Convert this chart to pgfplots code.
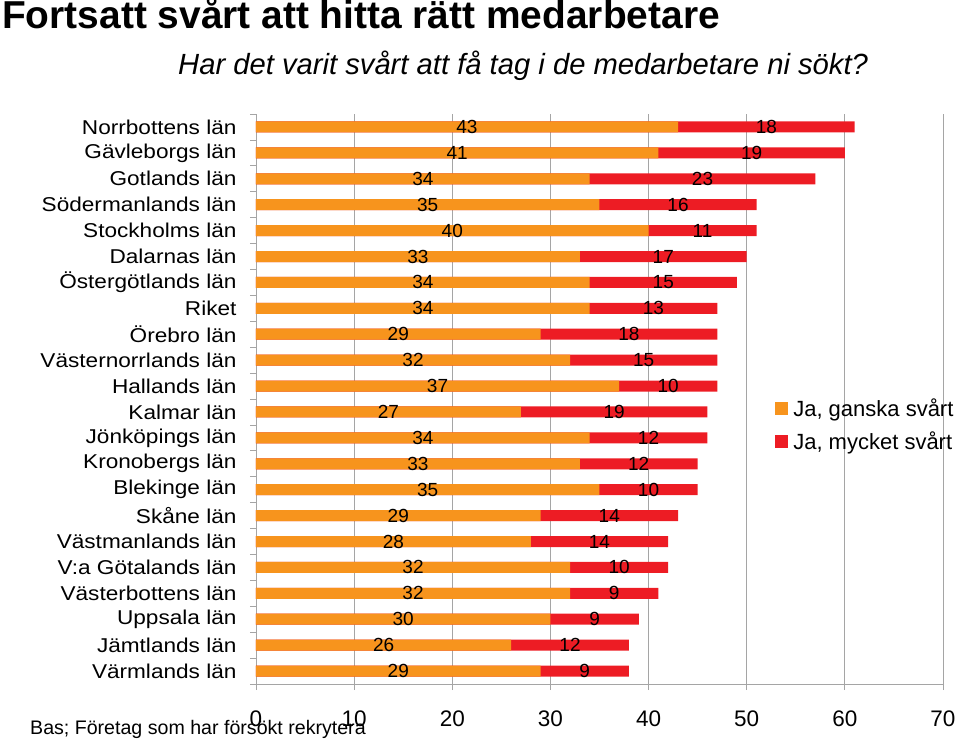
\documentclass[border=0pt]{standalone}
\usepackage{pgfplots}
\pgfplotsset{compat=1.18}
\usepackage{pgfplotstable}
\usepackage{fontspec}
\setmainfont{Liberation Sans}
\newfontfamily\ylabfont{Liberation Sans}[FakeStretch=1.13]
\definecolor{ganska}{RGB}{247,148,29}
\definecolor{mycket}{RGB}{237,28,36}
\definecolor{gridc}{RGB}{165,165,165}
\pgfplotstableread{
y g m
0 43 18
1 41 19
2 34 23
3 35 16
4 40 11
5 33 17
6 34 15
7 34 13
8 29 18
9 32 15
10 37 10
11 27 19
12 34 12
13 33 12
14 35 10
15 29 14
16 28 14
17 32 10
18 32 9
19 30 9
20 26 12
21 29 9
}\data
\begin{document}
\begin{tikzpicture}
\begin{axis}[
  at={(0pt,0pt)}, anchor=south west,
  scale only axis, width=687pt, height=570pt,
  xmin=0, xmax=70, ymin=-0.5, ymax=21.5, y dir=reverse,
  axis x line*=bottom, axis y line*=left,
  axis line style={gridc, line width=0.8pt, -},
  xtick={0,10,...,70}, xmajorgrids,
  grid style={gridc, line width=0.8pt},
  tick align=outside, major tick length=6pt, minor tick length=6pt,
  major x tick style={gridc, line width=0.8pt},
  ytick={0,...,21},
  yticklabels={Norrbottens län,Gävleborgs län,Gotlands län,Södermanlands län,Stockholms län,Dalarnas län,Östergötlands län,Riket,Örebro län,Västernorrlands län,Hallands län,Kalmar län,Jönköpings län,Kronobergs län,Blekinge län,Skåne län,Västmanlands län,V:a Götalands län,Västerbottens län,Uppsala län,Jämtlands län,Värmlands län},
  major y tick style={draw=none},
  minor ytick={-0.5,0.5,...,21.5},
  minor y tick style={gridc, line width=0.8pt},
  yticklabel style={font=\ylabfont\fontsize{20}{24}\selectfont, xshift=-10pt},
  xticklabel style={font=\fontsize{22.5}{26}\selectfont, yshift=-17pt},
  /pgf/number format/assume math mode=true,
  legend style={at={(0.755,0.505)}, anchor=north west, draw=none, fill=none,
    font=\fontsize{22}{25}\selectfont, row sep=10pt, inner sep=0pt},
  legend cell align=left,
  clip=false,
]
\addplot[xbar, /pgf/bar shift=0pt, bar width=11pt, fill=mycket, draw=none, forget plot]
  table[x expr=\thisrow{g}+\thisrow{m}, y=y] {\data};
\addplot[xbar, /pgf/bar shift=0pt, bar width=11pt, fill=ganska, draw=none, forget plot]
  table[x=g, y=y] {\data};
\addplot[draw=none, forget plot, point meta=explicit symbolic,
  nodes near coords, nodes near coords style={anchor=center, font=\fontsize{19}{22}\selectfont, text=black}]
  table[x expr=\thisrow{g}/2, y=y, meta=g] {\data};
\addplot[draw=none, forget plot, point meta=explicit symbolic,
  nodes near coords, nodes near coords style={anchor=center, font=\fontsize{19}{22}\selectfont, text=black}]
  table[x expr=\thisrow{g}+\thisrow{m}/2, y=y, meta=m] {\data};
\addlegendimage{legend image code/.code={\fill[ganska] (0pt,-6pt) rectangle (12pt,6pt); \path (16pt,0pt);}}
\addlegendentry{Ja, ganska svårt}
\addlegendimage{legend image code/.code={\fill[mycket] (0pt,-6pt) rectangle (12pt,6pt); \path (16pt,0pt);}}
\addlegendentry{Ja, mycket svårt}
\end{axis}
\node[anchor=base west, inner sep=0pt, font=\bfseries\fontsize{38.9}{42}\selectfont] at (-254pt,655pt) {Fortsatt svårt att hitta rätt medarbetare};
\node[anchor=base west, inner sep=0pt, font=\itshape\fontsize{29.2}{33}\selectfont] at (-78pt,609pt) {Har det varit svårt att få tag i de medarbetare ni sökt?};
\node[anchor=base west, inner sep=0pt, font=\fontsize{19.6}{22}\selectfont] at (-226pt,-50pt) {Bas; Företag som har försökt rekrytera};
\pgfresetboundingbox
\path[use as bounding box] (-256pt,-56pt) rectangle (703pt,684pt);
\end{tikzpicture}
\end{document}
